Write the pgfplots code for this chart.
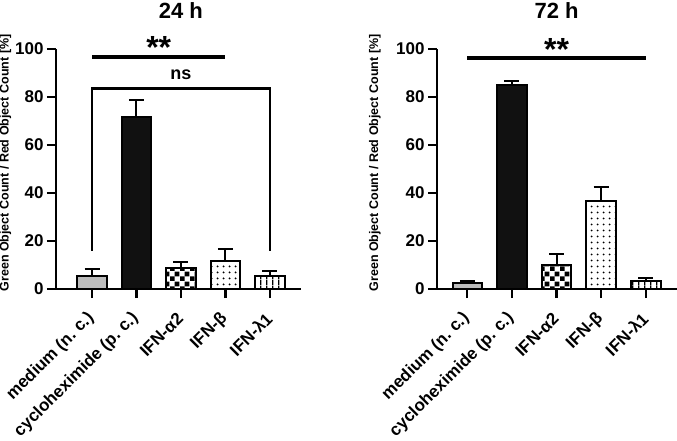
\documentclass[border=0pt]{standalone}
\usepackage{fontspec}
\setmainfont{Liberation Sans}
\usepackage{pgfplots}
\pgfplotsset{compat=1.18}
\usetikzlibrary{patterns.meta}

\tikzdeclarepattern{name=bigcheck, type=uncolored,
  bottom left={(0bp,0bp)}, top right={(10bp,10bp)}, tile size={(10bp,10bp)},
  code={\fill (0bp,0bp) rectangle (5bp,5bp); \fill (5bp,5bp) rectangle (10bp,10bp);}}
\tikzdeclarepattern{name=bigdots, type=uncolored,
  bottom left={(0bp,0bp)}, top right={(5.5bp,5.5bp)}, tile size={(5.5bp,5.5bp)},
  code={\fill (2.75bp,2.75bp) circle (1.1bp);}}
\tikzdeclarepattern{name=vlines, type=uncolored,
  bottom left={(0bp,0bp)}, top right={(6bp,6bp)}, tile size={(6bp,6bp)},
  code={\fill (2.3bp,0bp) rectangle (3.8bp,6bp);}}

\definecolor{medgray}{RGB}{188,188,188}
\definecolor{nearblack}{RGB}{17,17,17}

\pgfplotsset{
  panel/.style={
    scale only axis, height=240bp,
    ymin=0, ymax=100, ytick={0,20,...,100},
    xtick={0,1,2,3,4},
    xticklabels={medium (n.\ c.), cycloheximide (p.\ c.), IFN-α2, IFN-β, IFN-λ1},
    axis lines=left,
    axis line style={-, line width=2.2bp},
    every outer x axis line/.append style={-},
    every outer y axis line/.append style={-},
    tick style={line width=2.2bp, black},
    major tick length=9bp, tick align=outside,
    /pgf/number format/assume math mode=true,
    yticklabel style={font=\fontsize{17bp}{20bp}\selectfont\bfseries},
    xticklabel style={font=\fontsize{17bp}{20bp}\selectfont\bfseries, rotate=45, anchor=east, inner sep=1bp},
    xticklabel shift=17bp,
    clip=false,
  },
  mybar/.style={ybar, bar width=0.66, bar shift=0pt, draw=black, line width=2bp,
    /pgfplots/error bars/y dir=plus, /pgfplots/error bars/y explicit,
    /pgfplots/error bars/error bar style={line width=2bp, black},
    /pgfplots/error bars/error mark options={rotate=90, line width=2bp, mark size=7.5bp, black}},
}

\begin{document}
\begin{tikzpicture}
% ---------------- 24 h ----------------
\begin{axis}[panel, at={(0bp,0bp)}, anchor=south west, width=245bp,
  xmin=-0.81, xmax=4.70]
\addplot[mybar, fill=medgray] coordinates {(0,5.4) +- (0,2.9)};
\addplot[mybar, fill=nearblack] coordinates {(1,71.7) +- (0,7.0)};
\addplot[mybar, pattern=bigcheck, pattern color=black] coordinates {(2,8.75) +- (0,2.3)};
\addplot[mybar, pattern=bigdots, pattern color=black] coordinates {(3,11.8) +- (0,4.7)};
\addplot[mybar, pattern=vlines, pattern color=black] coordinates {(4,5.3) +- (0,2.3)};
\addplot[black, line width=4bp] coordinates {(0,96.8) (3,96.8)};
\addplot[black, line width=2.5bp, line join=miter] coordinates {(0,16) (0,83.5) (4,83.5) (4,16)};
\node[font=\fontsize{32bp}{34bp}\selectfont\bfseries, anchor=base] at (axis cs:1.5,96.0) {**};
\node[font=\fontsize{18bp}{20bp}\selectfont\bfseries, anchor=base] at (axis cs:2,87.2) {ns};
\node[font=\fontsize{22bp}{24bp}\selectfont\bfseries, anchor=base] at (axis cs:2,112.9) {24 h};
\node[font=\fontsize{12.5bp}{14bp}\selectfont\bfseries, rotate=90, anchor=center]
  at ([xshift=-50.5bp]axis description cs:0,0.525) {Green Object Count / Red Object Count [\%]};
\end{axis}
% ---------------- 72 h ----------------
\begin{axis}[panel, at={(381bp,0bp)}, anchor=south west, width=240bp,
  xmin=-0.68, xmax=4.70]
\addplot[mybar, fill=medgray] coordinates {(0,2.5) +- (0,1.0)};
\addplot[mybar, fill=nearblack] coordinates {(1,84.9) +- (0,1.9)};
\addplot[mybar, pattern=bigcheck, pattern color=black] coordinates {(2,10.0) +- (0,4.6)};
\addplot[mybar, pattern=bigdots, pattern color=black] coordinates {(3,36.7) +- (0,5.9)};
\addplot[mybar, pattern=vlines, pattern color=black] coordinates {(4,3.3) +- (0,1.4)};
\addplot[black, line width=4bp] coordinates {(0,96.2) (4,96.2)};
\node[font=\fontsize{32bp}{34bp}\selectfont\bfseries, anchor=base] at (axis cs:2,95.4) {**};
\node[font=\fontsize{22bp}{24bp}\selectfont\bfseries, anchor=base] at (axis cs:2,112.9) {72 h};
\node[font=\fontsize{12.5bp}{14bp}\selectfont\bfseries, rotate=90, anchor=center]
  at ([xshift=-62bp]axis description cs:0,0.525) {Green Object Count / Red Object Count [\%]};
\end{axis}
\pgfresetboundingbox
\path[use as bounding box] (-56bp,-152bp) rectangle (621bp,289bp);
\end{tikzpicture}
\end{document}
